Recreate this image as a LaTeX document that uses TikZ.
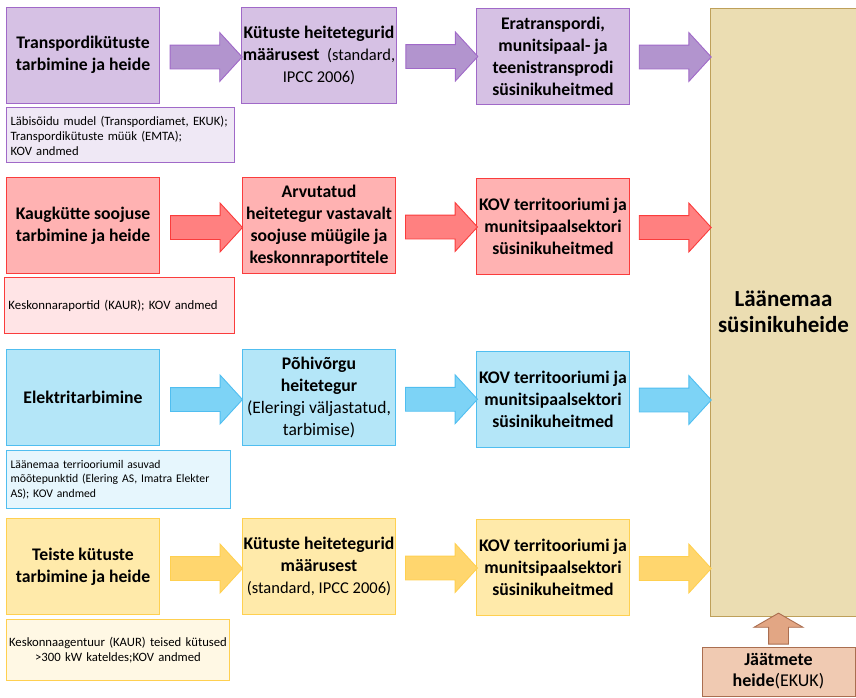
\documentclass[tikz,border=0pt]{standalone}
\usepackage{fontspec}
\setmainfont{Carlito}
\usetikzlibrary{shapes.arrows, positioning, calc}

\definecolor{trfill}{RGB}{214,193,228}
\definecolor{trline}{RGB}{160,105,200}
\definecolor{trarrow}{RGB}{178,148,206}
\definecolor{trsrc}{RGB}{239,232,245}
\definecolor{kkfill}{RGB}{255,178,178}
\definecolor{kkline}{RGB}{250,60,60}
\definecolor{kkarrow}{RGB}{255,128,128}
\definecolor{kksrc}{RGB}{255,228,230}
\definecolor{elfill}{RGB}{180,230,248}
\definecolor{elline}{RGB}{80,190,240}
\definecolor{elarrow}{RGB}{125,211,246}
\definecolor{elsrc}{RGB}{230,246,253}
\definecolor{kyfill}{RGB}{255,234,170}
\definecolor{kyline}{RGB}{255,208,80}
\definecolor{kyarrow}{RGB}{255,214,110}
\definecolor{kysrc}{RGB}{255,248,228}
\definecolor{totfill}{RGB}{235,221,178}
\definecolor{totline}{RGB}{190,160,90}
\definecolor{jafill}{RGB}{240,202,178}
\definecolor{jaline}{RGB}{170,110,80}
\definecolor{jaarrow}{RGB}{226,166,132}

\newcommand{\titlefont}{\fontsize{17.7}{22}\selectfont\bfseries}
\newcommand{\notefont}[1]{\fontsize{#1}{22}\selectfont\mdseries}
\newcommand{\srcfont}{\fontsize{12.7}{15}\selectfont}

\tikzset{
  stepbox/.style={draw, line width=0.9pt, minimum width=153, minimum height=96,
    inner sep=1pt, align=center, font=\titlefont},
  srcbox/.style={draw, line width=0.9pt, inner xsep=4pt, inner ysep=0pt,
    align=left, font=\srcfont},
  flow/.style={single arrow, draw, line width=0.9pt, minimum height=72,
    minimum width=48, single arrow head extend=12.5pt,
    single arrow tip angle=95, inner xsep=0pt, inner ysep=11.5pt},
  trp/.style={draw=trline, fill=trfill},
  kkt/.style={draw=kkline, fill=kkfill},
  ele/.style={draw=elline, fill=elfill},
  kyt/.style={draw=kyline, fill=kyfill}
}

\begin{document}
\begin{tikzpicture}[x=1pt, y=-1pt]
\useasboundingbox (0,0) rectangle (856,697);

% total
\node[draw=totline, fill=totfill, line width=0.9pt, minimum width=147, minimum height=608,
  align=center, font=\fontsize{23}{26}\selectfont\bfseries] (tot) at (783.5,312) {Läänemaa\\süsinikuheide};

% transport
\node[stepbox, trp] (t1) at (83,55) {Transpordikütuste\\tarbimine ja heide};
\node[stepbox, trp] (t2) at (319,55) {Kütuste heitetegurid\\määrusest {\notefont{16.5}\ (standard,}\\{\notefont{16.5}IPCC 2006)}};
\node[stepbox, trp] (t3) at (553,56) {Eratranspordi,\\munitsipaal- ja\\teenistransprodi\\süsinikuheitmed};
\node[srcbox, draw=trline, fill=trsrc, text width=220, minimum height=55,
  below right=4pt and 0pt of t1.south west] (ts) {Läbisõidu mudel (Transpordiamet, EKUK);\\Transpordikütuste müük (EMTA);\\KOV andmed};

% kaugkute
\node[stepbox, kkt] (k1) at (83,225.5) {Kaugkütte soojuse\\tarbimine ja heide};
\node[stepbox, kkt] (k2) at (319,225.5) {Arvutatud\\heitetegur vastavalt\\soojuse müügile ja\\keskonnraportitele};
\node[stepbox, kkt] (k3) at (553,226.5) {KOV territooriumi ja\\munitsipaalsektori\\süsinikuheitmed};
\node[srcbox, draw=kkline, fill=kksrc, text width=222, minimum height=56, font=\fontsize{12.8}{15}\selectfont,
  below right=3pt and -2pt of k1.south west] (ks) {Keskonnaraportid (KAUR); KOV andmed};

% elekter
\node[stepbox, ele] (e1) at (83,397.5) {Elektritarbimine};
\node[stepbox, ele] (e2) at (319,397.5) {Põhivõrgu\\heitetegur\\{\notefont{17.5}(Eleringi väljastatud,}\\{\notefont{17.5}tarbimise)}};
\node[stepbox, ele] (e3) at (553,399) {KOV territooriumi ja\\munitsipaalsektori\\süsinikuheitmed};
\node[srcbox, draw=elline, fill=elsrc, text width=216, minimum height=58, font=\fontsize{11.7}{14.5}\selectfont,
  below right=4pt and 0pt of e1.south west] (es) {Läänemaa terriooriumil asuvad\\mõõtepunktid (Elering AS, Imatra Elekter\\AS); KOV andmed};

% teised kytused
\node[stepbox, kyt] (y1) at (83,566.5) {Teiste kütuste\\tarbimine ja heide};
\node[stepbox, kyt] (y2) at (319,566.5) {Kütuste heitetegurid\\määrusest\\{\notefont{16.5}(standard, IPCC 2006)}};
\node[stepbox, kyt] (y3) at (553,567.5) {KOV territooriumi ja\\munitsipaalsektori\\süsinikuheitmed};
\node[srcbox, draw=kyline, fill=kysrc, text width=221, inner xsep=1pt, minimum height=61, align=center,
  below right=4pt and 0pt of y1.south west] (ys) {Keskonnaagentuur (KAUR) teised kütused\\>300 kW kateldes;KOV andmed};

% jaatmed
\node[draw=jaline, fill=jafill, line width=0.9pt, minimum width=153, minimum height=49,
  align=center, font=\fontsize{18}{21}\selectfont\bfseries] (ja) at (778.5,671.5) {Jäätmete\\heide{\mdseries(EKUK)}};

% arrows
\foreach \r/\c in {t/tr, k/kk, e/el, y/ky} {
  \node[flow, draw=\c line, fill=\c arrow] at ($(\r1.east)!0.5!(\r2.west)+(0,2)$) {};
  \node[flow, draw=\c line, fill=\c arrow] at ($(\r2.east)!0.5!(\r3.west)+(0,1)$) {};
  \node[flow, draw=\c line, fill=\c arrow] at ($(\r3.east)!0.5!(\r3.east -| tot.west)+(0,1)$) {};
}
\node[single arrow, draw=jaline, fill=jaarrow, line width=0.9pt, shape border rotate=90,
  minimum height=31, minimum width=48, single arrow head extend=14.5pt,
  single arrow tip angle=120, inner xsep=9.5pt, inner ysep=0pt]
  at ($(ja.north)!0.5!(ja.north |- tot.south)$) {};
\end{tikzpicture}
\end{document}
